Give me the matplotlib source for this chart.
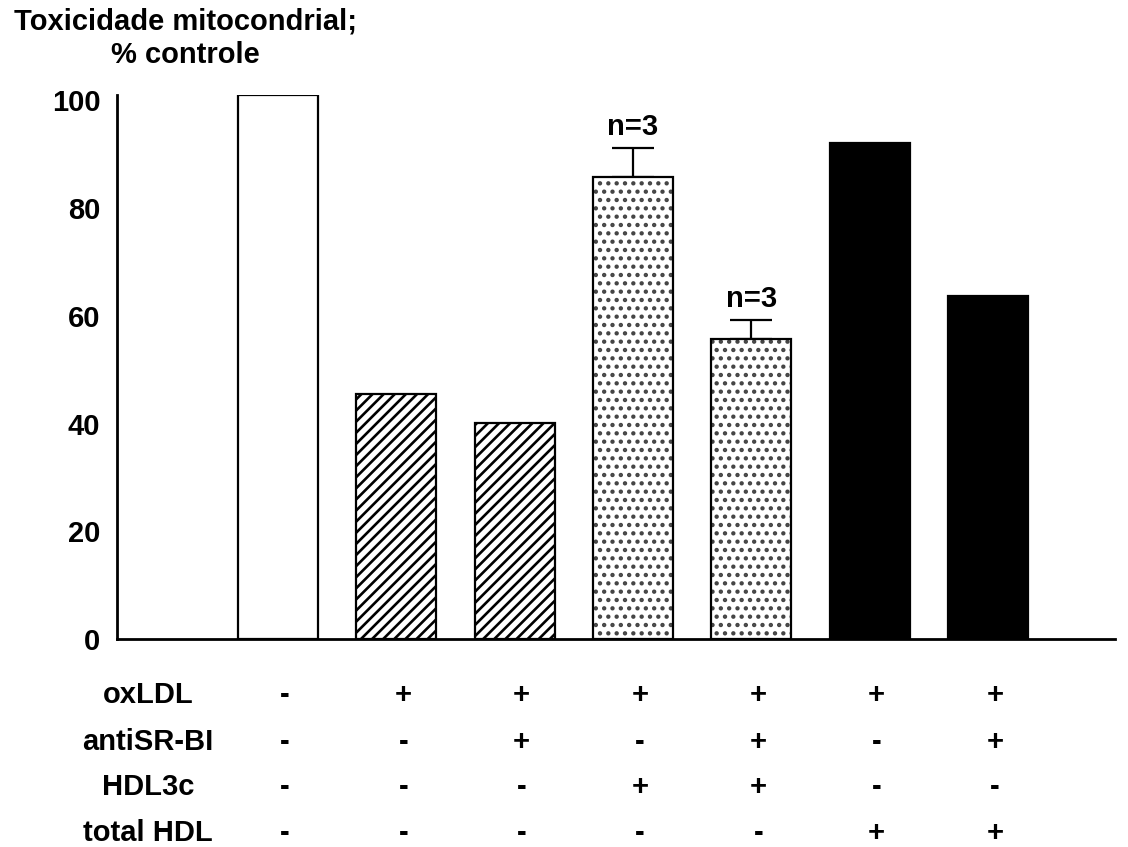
import numpy as np
import matplotlib
matplotlib.use('Agg')
import matplotlib.pyplot as plt

# values
positions = [1, 2, 3, 4, 5, 6, 7]
values = [101.0, 45.5, 40.1, 85.8, 55.7, 92.1, 63.7]
errors = [0, 0, 0, 5.4, 3.5, 0, 0]
n_labels = ['', '', '', 'n=3', 'n=3', '', '']

row_names = ['oxLDL', 'antiSR-BI', 'HDL3c', 'total HDL']
rows = [
    ['-', '+', '+', '+', '+', '+', '+'],
    ['-', '-', '+', '-', '+', '-', '+'],
    ['-', '-', '-', '+', '+', '-', '-'],
    ['-', '-', '-', '-', '-', '+', '+'],
]
yticks = [0, 20, 40, 60, 80, 100]

plt.rcParams['font.family'] = ['Liberation Sans', 'DejaVu Sans']
plt.rcParams['font.weight'] = 'bold'
plt.rcParams['hatch.linewidth'] = 1.9

fig = plt.figure(figsize=(11.28, 8.47), dpi=100)
ax = fig.add_axes([117/1128, 1 - 639/847, (1115 - 117)/1128, (639 - 95)/847])

faces = ['white', 'white', 'white', 'white', 'white', 'black', 'black']
hatches = [None, '///', '///', '..', '..', None, None]
hatch_cols = ['black', 'black', 'black', '#444444', '#444444', 'black', 'black']
fs = 21

for i in range(len(positions)):
    # hatch layer first, then a clean black outline on top
    ax.bar(positions[i], values[i], width=0.676, color=faces[i], edgecolor=hatch_cols[i],
           linewidth=0, hatch=hatches[i], zorder=2)
    ax.bar(positions[i], values[i], width=0.676, fill=False, edgecolor='black',
           linewidth=1.6, zorder=3)
    if errors[i] > 0:
        ax.errorbar(positions[i], values[i], yerr=[[0], [errors[i]]], fmt='none',
                    ecolor='black', elinewidth=1.6, capsize=15, capthick=1.6, zorder=1)
        ax.text(positions[i], values[i] + errors[i] + 1.3, n_labels[i], ha='center',
                va='bottom', fontsize=fs, fontweight='bold')

ax.set_xlim(-0.361, 8.075)
ax.set_ylim(0, 101)
ax.set_yticks(yticks)
ax.set_yticklabels([str(t) for t in yticks], fontsize=fs, fontweight='bold')
ax.set_xticks([])
ax.tick_params(axis='y', length=0, pad=12)
ax.spines['top'].set_visible(False)
ax.spines['right'].set_visible(False)
ax.spines['left'].set_linewidth(2)
ax.spines['bottom'].set_linewidth(2)

# treatment table under the axis
row_y = [-0.103, -0.189, -0.272, -0.357]
trans = ax.get_xaxis_transform()
for r in range(len(row_names)):
    ax.text(-0.099, row_y[r], row_names[r], transform=trans, ha='center', va='center',
            fontsize=fs, fontweight='bold', clip_on=False)
    for i in range(len(positions)):
        ax.text(positions[i] + 0.06, row_y[r], rows[r][i], transform=trans, ha='center',
                va='center', fontsize=fs, fontweight='bold', clip_on=False)

fig.text(185/1128, 1 - 22/847, 'Toxicidade mitocondrial;', ha='center', va='center',
         fontsize=fs, fontweight='bold')
fig.text(185/1128, 1 - 55/847, '% controle', ha='center', va='center',
         fontsize=fs, fontweight='bold')

fig.savefig('out.png', dpi=100)
